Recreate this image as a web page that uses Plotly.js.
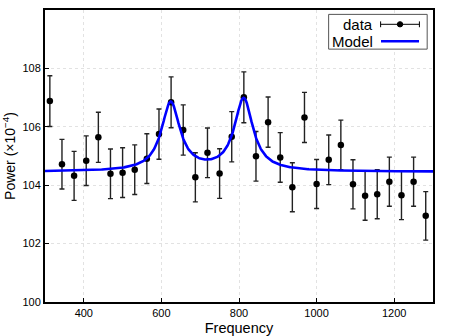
<!DOCTYPE html>
<html>
<head>
<meta charset="utf-8">
<script src="https://cdn.plot.ly/plotly-3.0.1.min.js"></script>
<style>
  html, body { margin: 0; padding: 0; background: #fff; }
  #chart { width: 449px; height: 336px; }
</style>
</head>
<body>
<div id="chart"></div>
<script>
// data points (frequency, power x1e-4, error)
var freq = [312.5, 343.75, 375, 406.25, 437.5, 468.75, 500, 531.25, 562.5, 593.75,
            625, 656.25, 687.5, 718.75, 750, 781.25, 812.5, 843.75, 875, 906.25,
            937.5, 968.75, 1000, 1031.25, 1062.5, 1093.75, 1125, 1156.25, 1187.5, 1218.75,
            1250, 1281.25];
var power = [106.88, 104.72, 104.32, 104.84, 105.64, 104.39, 104.43, 104.53, 104.91, 105.75,
             106.84, 105.89, 104.27, 105.11, 104.40, 105.66, 107.01, 104.99, 106.16, 104.95,
             103.93, 106.32, 104.04, 104.87, 105.38, 104.03, 103.64, 103.69, 104.12, 103.66,
             104.12, 102.95];
var powerErr = [0.87, 0.85, 0.84, 0.85, 0.86, 0.85, 0.85, 0.85, 0.85, 0.86,
                0.87, 0.86, 0.84, 0.85, 0.85, 0.86, 0.87, 0.85, 0.86, 0.85,
                0.84, 0.86, 0.84, 0.85, 0.85, 0.84, 0.84, 0.84, 0.84, 0.84,
                0.84, 0.83];

// model: flat background plus two lorentzian peaks
var background = 104.46;
var peakCentre = [624, 812];
var peakHeight = [2.35, 2.48];
var peakHalfWidth = [29, 29];

var modelX = [], modelY = [];
for (var f = 300; f <= 1300; f += 2) {
    var p = background;
    for (var k = 0; k < peakCentre.length; k++) {
        var u = (f - peakCentre[k]) / peakHalfWidth[k];
        p += peakHeight[k] / (1 + u * u);
    }
    modelX.push(f);
    modelY.push(p);
}

var font = "'Liberation Sans', Arial, sans-serif";

var dataTrace = {
    x: freq,
    y: power,
    error_y: { type: 'data', array: powerErr, visible: true, color: '#222', thickness: 1.4, width: 2.5 },
    mode: 'markers',
    type: 'scatter',
    name: 'data',
    marker: { color: '#000', size: 6.5 },
    showlegend: false
};

var modelTrace = {
    x: modelX,
    y: modelY,
    mode: 'lines',
    type: 'scatter',
    name: 'Model',
    line: { color: '#0000ff', width: 2.6 },
    showlegend: false
};

var axisStyle = {
    linecolor: '#000',
    linewidth: 2,
    mirror: true,
    ticks: 'inside',
    ticklen: 4,
    tickwidth: 1,
    tickcolor: '#000',
    showgrid: true,
    gridcolor: '#e2e2e2',
    griddash: 'dot',
    gridwidth: 1,
    zeroline: false,
    tickfont: { family: font, size: 11, color: '#000' }
};

var layout = {
    width: 449,
    height: 336,
    margin: { l: 45, r: 16, t: 10, b: 34 },
    paper_bgcolor: '#fff',
    plot_bgcolor: '#fff',
    font: { family: font, color: '#000' },
    xaxis: Object.assign({}, axisStyle, {
        range: [300, 1300],
        tickvals: [400, 600, 800, 1000, 1200],
        title: { text: 'Frequency', font: { family: font, size: 14.5 }, standoff: 7 }
    }),
    yaxis: Object.assign({}, axisStyle, {
        range: [100, 110],
        tickvals: [100, 102, 104, 106, 108],
        title: { text: 'Power (×10<sup>−4</sup>)', font: { family: font, size: 14 }, standoff: 6 }
    }),
    // legend drawn by hand: label on the left, symbol on the right
    shapes: [
        { type: 'rect', xref: 'paper', yref: 'paper', x0: 0.731, x1: 0.985, y0: 0.866, y1: 0.985,
          line: { color: '#555', width: 1 }, fillcolor: '#fff', layer: 'above' },
        { type: 'line', xref: 'paper', yref: 'paper', x0: 0.865, x1: 0.965, y0: 0.951, y1: 0.951,
          line: { color: '#000', width: 1 }, layer: 'above' },
        { type: 'line', xref: 'paper', yref: 'paper', x0: 0.865, x1: 0.865, y0: 0.941, y1: 0.961,
          line: { color: '#000', width: 1 }, layer: 'above' },
        { type: 'line', xref: 'paper', yref: 'paper', x0: 0.965, x1: 0.965, y0: 0.941, y1: 0.961,
          line: { color: '#000', width: 1 }, layer: 'above' },
        { type: 'circle', xref: 'paper', yref: 'paper', x0: 0.908, x1: 0.922, y0: 0.942, y1: 0.960,
          line: { color: '#000', width: 1 }, fillcolor: '#000', layer: 'above' },
        { type: 'line', xref: 'paper', yref: 'paper', x0: 0.866, x1: 0.964, y0: 0.893, y1: 0.893,
          line: { color: '#0000ff', width: 2.6 }, layer: 'above' }
    ],
    annotations: [
        { xref: 'paper', yref: 'paper', x: 0.85, y: 0.951, xanchor: 'right', yanchor: 'middle',
          text: 'data', showarrow: false, font: { family: font, size: 15, color: '#000' } },
        { xref: 'paper', yref: 'paper', x: 0.85, y: 0.893, xanchor: 'right', yanchor: 'middle',
          text: 'Model', showarrow: false, font: { family: font, size: 15, color: '#000' } }
    ]
};

Plotly.newPlot('chart', [dataTrace, modelTrace], layout, { displayModeBar: false, staticPlot: true });
</script>
</body>
</html>
